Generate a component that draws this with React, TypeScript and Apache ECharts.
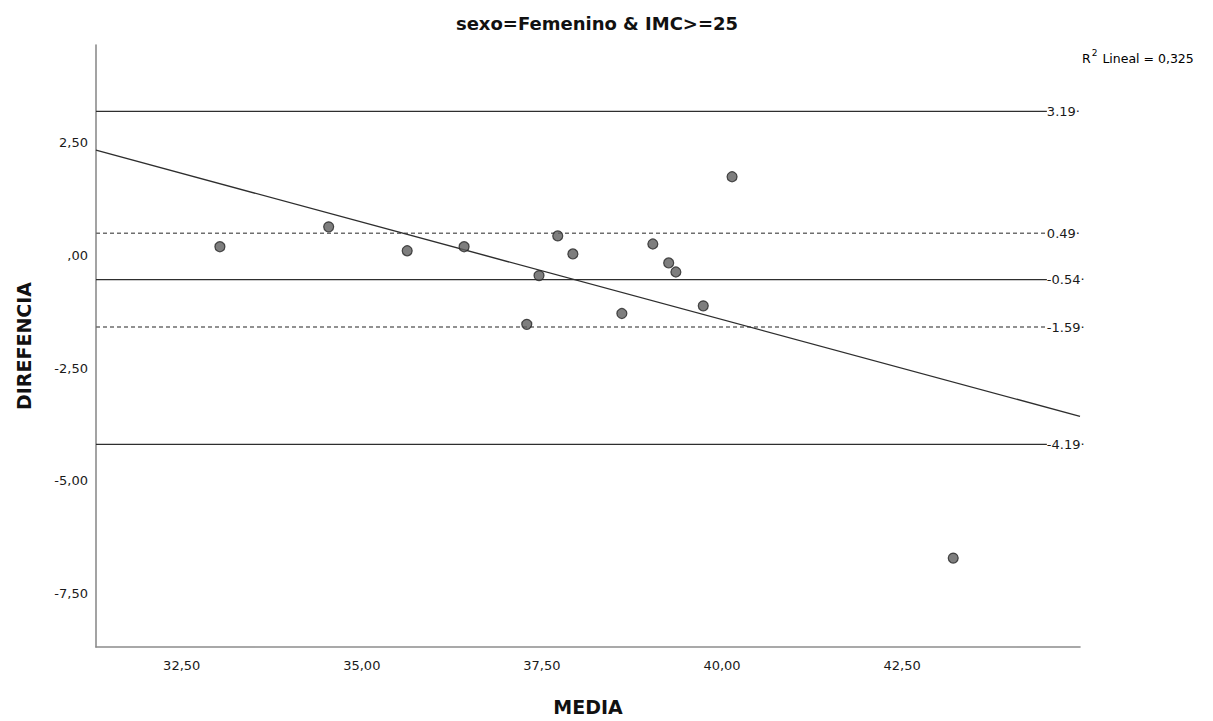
import React, { useEffect, useRef } from "react";
import * as echarts from "echarts";

const TITLE = "sexo=Femenino & IMC>=25";
const X_NAME = "MEDIA";
const Y_NAME = "DIREFENCIA";

// scatter points (MEDIA, DIFERENCIA)
const MEDIA = [33.03, 34.54, 35.63, 36.42, 37.72, 37.93, 37.46, 37.29, 38.61, 39.04, 39.26, 39.36, 39.74, 40.14, 43.21];
const DIFERENCIA = [0.19, 0.63, 0.10, 0.19, 0.43, 0.03, -0.45, -1.53, -1.29, 0.25, -0.17, -0.37, -1.12, 1.74, -6.71];

// axes
const X_RANGE = [31.31, 44.97];
const Y_RANGE = [-8.68, 4.66];
const X_TICKS = [32.5, 35, 37.5, 40, 42.5];
const X_TICK_LABELS = ["32,50", "35,00", "37,50", "40,00", "42,50"];
const Y_TICKS = [2.5, 0, -2.5, -5, -7.5];
const Y_TICK_LABELS = ["2,50", ",00", "-2,50", "-5,00", "-7,50"];

// reference lines (limits of agreement, mean, CI)
const REF_VALUES = [3.19, 0.49, -0.54, -1.59, -4.19];
const REF_LABELS = ["3.19·", "0.49·", "-0.54·", "-1.59·", "-4.19·"];
const REF_DASHED = [false, true, false, true, false];
const REF_LINE_END = 44.51;

// linear fit line
const FIT_X = [31.31, 44.97];
const FIT_Y = [2.33, -3.57];
const R2_VALUE = "0,325";

const FONT = "DejaVu Sans";

function tickLabel(ticks: number[], labels: string[]) {
  return (v: number) => {
    const i = ticks.findIndex((t) => Math.abs(t - v) < 1e-6);
    return i >= 0 ? labels[i] : "";
  };
}

export default function App() {
  const ref = useRef<HTMLDivElement>(null);

  useEffect(() => {
    if (!ref.current) return;
    const chart = echarts.init(ref.current, null, { renderer: "svg" });

    const refSeries = REF_VALUES.map((v, i) => ({
      type: "line",
      name: "ref" + i,
      silent: true,
      symbol: "none",
      z: 2,
      data: [
        [X_RANGE[0], v],
        [REF_LINE_END, v],
      ],
      lineStyle: REF_DASHED[i]
        ? { color: "#6e6e6e", width: 1.6, type: [4, 3] }
        : { color: "#2e2e2e", width: 1.3, type: "solid" },
      endLabel: {
        show: true,
        formatter: REF_LABELS[i],
        distance: 0,
        fontFamily: FONT,
        fontSize: 13,
        color: "#1a1a1a",
      },
    }));

    chart.setOption({
      animation: false,
      backgroundColor: "#ffffff",
      title: {
        text: TITLE,
        left: 592,
        top: 9,
        textAlign: "center",
        textStyle: { fontFamily: FONT, fontSize: 18, fontWeight: "bold", color: "#111" },
      },
      grid: { left: 96, right: 133, top: 45, bottom: 73, containLabel: false },
      xAxis: {
        type: "value",
        min: X_RANGE[0],
        max: X_RANGE[1],
        name: X_NAME,
        nameLocation: "middle",
        nameGap: 50,
        nameTextStyle: { fontFamily: FONT, fontSize: 19, fontWeight: "bold", color: "#111" },
        axisLine: { show: true, onZero: false, lineStyle: { color: "#8c8c8c", width: 1.6 } },
        axisTick: { show: false },
        splitLine: { show: false },
        axisLabel: {
          customValues: X_TICKS,
          formatter: tickLabel(X_TICKS, X_TICK_LABELS),
          margin: 12,
          fontFamily: FONT,
          fontSize: 13,
          color: "#1a1a1a",
          showMinLabel: true,
          showMaxLabel: true,
        },
      },
      yAxis: {
        type: "value",
        min: Y_RANGE[0],
        max: Y_RANGE[1],
        name: Y_NAME,
        nameLocation: "middle",
        nameRotate: 90,
        nameGap: 63,
        nameTextStyle: { fontFamily: FONT, fontSize: 19, fontWeight: "bold", color: "#111" },
        axisLine: { show: true, onZero: false, lineStyle: { color: "#8c8c8c", width: 1.6 } },
        axisTick: { show: false },
        splitLine: { show: false },
        axisLabel: {
          customValues: Y_TICKS,
          formatter: tickLabel(Y_TICKS, Y_TICK_LABELS),
          margin: 8,
          fontFamily: FONT,
          fontSize: 13,
          color: "#1a1a1a",
          showMinLabel: true,
          showMaxLabel: true,
        },
      },
      graphic: [
        {
          type: "text",
          left: 1082,
          top: 47,
          style: {
            text: "{r|R}{s|2}{r| Lineal = " + R2_VALUE + "}",
            rich: {
              r: { fontFamily: FONT, fontSize: 12.5, color: "#1a1a1a", lineHeight: 18, verticalAlign: "bottom" },
              s: { fontFamily: FONT, fontSize: 9, color: "#1a1a1a", lineHeight: 18, verticalAlign: "top", padding: [1, 1, 0, 1] },
            },
          },
        },
      ],
      series: [
        ...refSeries,
        {
          type: "line",
          name: "fit",
          silent: true,
          symbol: "none",
          z: 3,
          data: FIT_X.map((x, i) => [x, FIT_Y[i]]),
          lineStyle: { color: "#2e2e2e", width: 1.4 },
        },
        {
          type: "scatter",
          name: "puntos",
          z: 5,
          symbol: "circle",
          symbolSize: 10,
          data: MEDIA.map((x, i) => [x, DIFERENCIA[i]]),
          itemStyle: { color: "#5e5e5e", borderColor: "#262626", borderWidth: 1.2 },
        },
      ],
    });

    return () => chart.dispose();
  }, []);

  return (
    <div
      ref={ref}
      style={{ position: "absolute", left: 0, top: 0, width: 1213, height: 721, background: "#fff" }}
    />
  );
}
